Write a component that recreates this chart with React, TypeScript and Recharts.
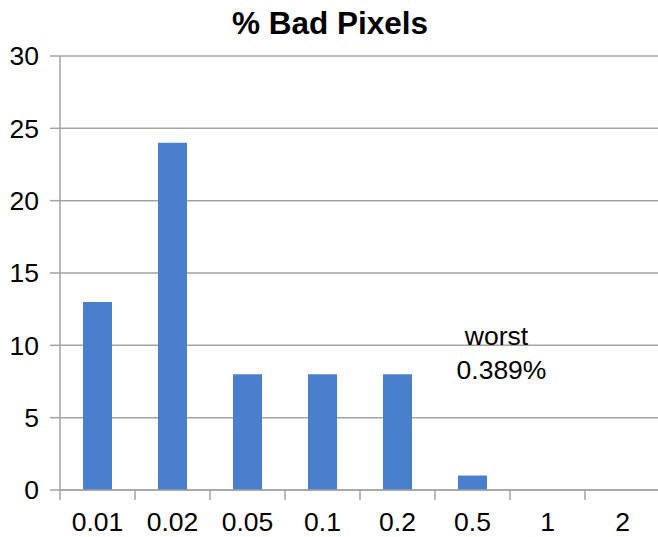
import React from 'react';
import { BarChart, Bar, XAxis, YAxis, CartesianGrid, ReferenceDot } from 'recharts';

const categories = ['0.01', '0.02', '0.05', '0.1', '0.2', '0.5', '1', '2'];
const counts = [13, 24, 8, 8, 8, 1, 0, 0];
const yTicks = [0, 5, 10, 15, 20, 25, 30];
const title = '% Bad Pixels';
const noteLines = ['worst', '0.389%'];
const noteCategory = '0.5';
const noteValue = 10;

const data = categories.map((name, i) => ({ name, value: counts[i] }));

const FONT = '"Liberation Sans", Arial, sans-serif';
const GRID = '#A3A3A3';
const FS = 26.5;

const XTick = (props: any) => {
  const { x, y, payload } = props;
  const off = payload && typeof payload.offset === 'number' ? payload.offset : 37.5;
  return (
    <g>
      <line x1={x - off} x2={x - off} y1={y - 10} y2={y} stroke={GRID} strokeWidth={1.5} />
      <text x={x} y={y + 31} textAnchor="middle" fontSize={FS} fontFamily={FONT} fill="#000">
        {payload.value}
      </text>
    </g>
  );
};

const NoteLabel = (props: any) => {
  const vb = props.viewBox || {};
  const cx = (vb.x ?? 0) + (vb.width ?? 0) / 2;
  const cy = (vb.y ?? 0) + (vb.height ?? 0) / 2;
  return (
    <g>
      <text x={cx + 24} y={cy} textAnchor="middle" fontSize={FS} fontFamily={FONT} fill="#000">
        {noteLines[0]}
      </text>
      <text x={cx + 29} y={cy + 34} textAnchor="middle" fontSize={FS} fontFamily={FONT} fill="#000">
        {noteLines[1]}
      </text>
    </g>
  );
};

export default function App() {
  return (
    <div
      style={{
        position: 'fixed',
        left: 0,
        top: 0,
        width: 658,
        height: 537,
        overflow: 'hidden',
        background: '#fff',
      }}
    >
      <BarChart
        width={660}
        height={537}
        data={data}
        margin={{ top: 56, right: 0, left: 0, bottom: 0 }}
      >
        <CartesianGrid horizontal vertical={false} stroke={GRID} strokeWidth={1.5} />
        <XAxis
          dataKey="name"
          height={47}
          tickLine={false}
          tickSize={10}
          tickMargin={0}
          axisLine={{ stroke: GRID, strokeWidth: 1.5 }}
          tick={<XTick />}
          interval={0}
        />
        <YAxis
          width={60}
          type="number"
          domain={[0, 30]}
          ticks={yTicks}
          interval={0}
          tickSize={10}
          tickMargin={11}
          tickLine={{ stroke: GRID, strokeWidth: 1.5 }}
          axisLine={{ stroke: GRID, strokeWidth: 1.5 }}
          tick={{ fontSize: FS, fontFamily: FONT, fill: '#000' }}
        />
        <Bar dataKey="value" fill="#4A7FCE" barSize={29} isAnimationActive={false} />
        <ReferenceDot
          x={noteCategory}
          y={noteValue}
          r={0}
          fill="none"
          stroke="none"
          label={<NoteLabel />}
        />
      </BarChart>
      <svg
        width={658}
        height={50}
        style={{ position: 'absolute', left: 0, top: 0, pointerEvents: 'none' }}
      >
        <text x={330} y={34} textAnchor="middle" fontSize={31.5} fontWeight="bold" fontFamily={FONT} fill="#000">
          {title}
        </text>
      </svg>
    </div>
  );
}
